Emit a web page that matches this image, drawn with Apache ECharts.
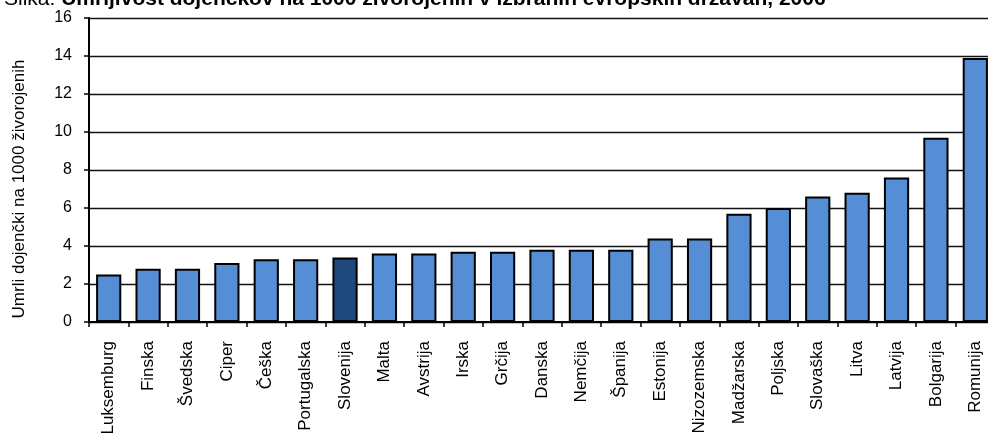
<!DOCTYPE html>
<html>
<head>
<meta charset="utf-8">
<script src="https://cdn.jsdelivr.net/npm/echarts@6/dist/echarts.min.js"></script>
<style>
html,body{margin:0;padding:0;background:#fff;}
#chart{width:988px;height:434px;}
</style>
</head>
<body>
<div id="chart"></div>
<script>
const categories = ['Luksemburg','Finska','Švedska','Ciper','Češka','Portugalska','Slovenija','Malta','Avstrija','Irska','Grčija','Danska','Nemčija','Španija','Estonija','Nizozemska','Madžarska','Poljska','Slovaška','Litva','Latvija','Bolgarija','Romunija'];
const values = [2.5,2.8,2.8,3.1,3.3,3.3,3.4,3.6,3.6,3.7,3.7,3.8,3.8,3.8,4.4,4.4,5.7,6.0,6.6,6.8,7.6,9.7,13.9];
const highlighted = 'Slovenija';
const yTicks = {min:0, max:16, interval:2};
const titlePrefix = 'Slika: ';
const titleMain = 'Umrljivost dojenčkov na 1000 živorojenih v izbranih evropskih državah, 2006';
const yAxisName = 'Umrli dojenčki na 1000 živorojenih';

const FONT = '"Liberation Sans", Arial, sans-serif';
const chart = echarts.init(document.getElementById('chart'), null, {renderer:'canvas'});
chart.setOption({
  animation:false,
  backgroundColor:'#fff',
  title:{
    text:'{a|'+titlePrefix+'}{b|'+titleMain+'}',
    left:-1, top:-16,
    textStyle:{fontWeight:'normal', rich:{
      a:{fontFamily:FONT,fontSize:21,fontWeight:'normal',color:'#000'},
      b:{fontFamily:FONT,fontSize:21,fontWeight:'bold',color:'#000'}
    }}
  },
  graphic:[{
    type:'text', x:19, y:189, rotation:Math.PI/2,
    style:{text:yAxisName, fontFamily:FONT, fontSize:17, fill:'#000', align:'center', verticalAlign:'middle'}
  }],
  grid:{left:89, top:18, width:906, height:304, containLabel:false, outerBoundsMode:'none'},
  xAxis:{
    type:'category', data:categories,
    axisLine:{lineStyle:{color:'#000', width:2}},
    axisTick:{show:true, length:5, lineStyle:{color:'#000', width:1.5}},
    axisLabel:{rotate:90, margin:19, fontFamily:FONT, fontSize:17, color:'#000', interval:0}
  },
  yAxis:{
    type:'value', min:yTicks.min, max:yTicks.max, interval:yTicks.interval,
    axisLine:{show:true, lineStyle:{color:'#000', width:2}},
    axisTick:{show:true, length:5, lineStyle:{color:'#000', width:1.5}},
    axisLabel:{margin:17, fontFamily:FONT, fontSize:16, color:'#000'},
    splitLine:{show:true, lineStyle:{color:'#111', width:1.3}}
  },
  series:[{
    type:'bar', barWidth:'64%',
    data:values.map((v,i)=>({value:v, itemStyle:{color: categories[i]===highlighted ? '#1F497D' : '#558ED5'}})),
    itemStyle:{borderColor:'#000', borderWidth:2}
  }]
});
</script>
</body>
</html>
